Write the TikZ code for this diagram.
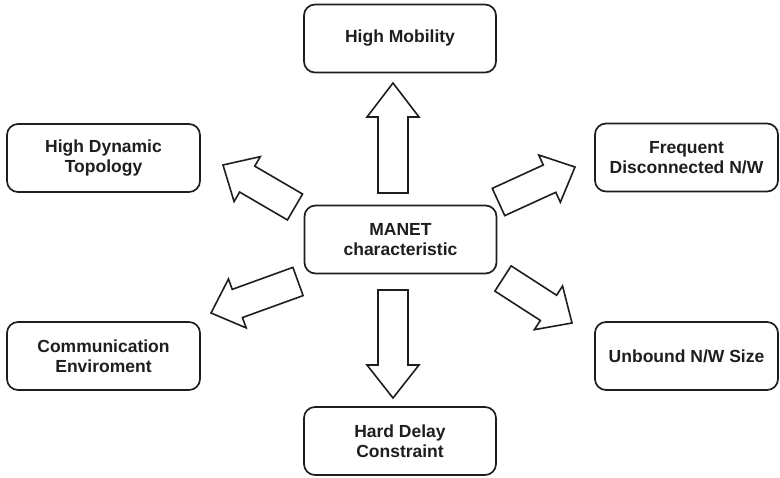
\documentclass[tikz,border=0pt]{standalone}
\usepackage{fontspec}
\setmainfont{Liberation Sans}
\usetikzlibrary{calc}
\definecolor{ink}{HTML}{1E1E1E}
\tikzset{
  charbox/.style={draw=ink, line width=1.7pt, rounded corners=11pt, fill=white,
    align=center, text=ink, font=\fontsize{17.5}{20}\selectfont\bfseries,
    minimum width=#1, minimum height=68pt, inner sep=0pt},
  charbox/.default=192pt,
  fatarrow/.style={draw=ink, line width=1.6pt, fill=white, line join=miter}
}
\def\shaftw{15pt}
\def\headw{26pt}
% hollow block arrow: [head length]{tail}{tip}
\newcommand\blockarrow[3][30pt]{%
  \draw[fatarrow]
    ($(#2)!\shaftw!90:(#3)$)
    -- ($($(#3)!#1!(#2)$)!\shaftw!-90:(#2)$)
    -- ($($(#3)!#1!(#2)$)!\headw!-90:(#2)$)
    -- (#3)
    -- ($($(#3)!#1!(#2)$)!\headw!90:(#2)$)
    -- ($($(#3)!#1!(#2)$)!\shaftw!90:(#2)$)
    -- ($(#2)!\shaftw!-90:(#3)$)
    -- cycle;}
\begin{document}
\begin{tikzpicture}[x=1pt,y=-1pt]
  \useasboundingbox (0,0) rectangle (780,478);

  % characteristic boxes
  \node[charbox] (manet) at (400.5,239.5) {MANET\\characteristic};
  \node[charbox] (mob)   at (400,38.5)    {High Mobility};
  \node[charbox] (hard)  at (400,441)     {Hard Delay\\Constraint};
  \node[charbox=193pt] (topo) at (103.5,158)  {High Dynamic\\Topology};
  \node[charbox=193pt] (comm) at (103.5,356)  {Communication\\Enviroment};
  \node[charbox=183pt] (freq) at (686.5,157.5) {Frequent\\Disconnected N/W};
  \node[charbox=183pt] (unb)  at (686.5,356)   {Unbound N/W Size};

  % arrow ends
  \coordinate (upT) at (393,193);   \coordinate (upH) at (393,83);
  \coordinate (dnT) at (393,290);   \coordinate (dnH) at (393,398);
  \coordinate (luT) at (295,207);   \coordinate (luH) at (223,165);
  \coordinate (ruT) at (498.5,202); \coordinate (ruH) at (575,167);
  \coordinate (rdT) at (503,278.5); \coordinate (rdH) at (572,323);
  \coordinate (ldT) at (298,281.5); \coordinate (ldH) at (211,313);

  \blockarrow[34pt]{upT}{upH}
  \blockarrow[33pt]{dnT}{dnH}
  \blockarrow[28pt]{luT}{luH}
  \blockarrow[28pt]{ruT}{ruH}
  \blockarrow[28pt]{rdT}{rdH}
  \blockarrow[28pt]{ldT}{ldH}
\end{tikzpicture}
\end{document}
